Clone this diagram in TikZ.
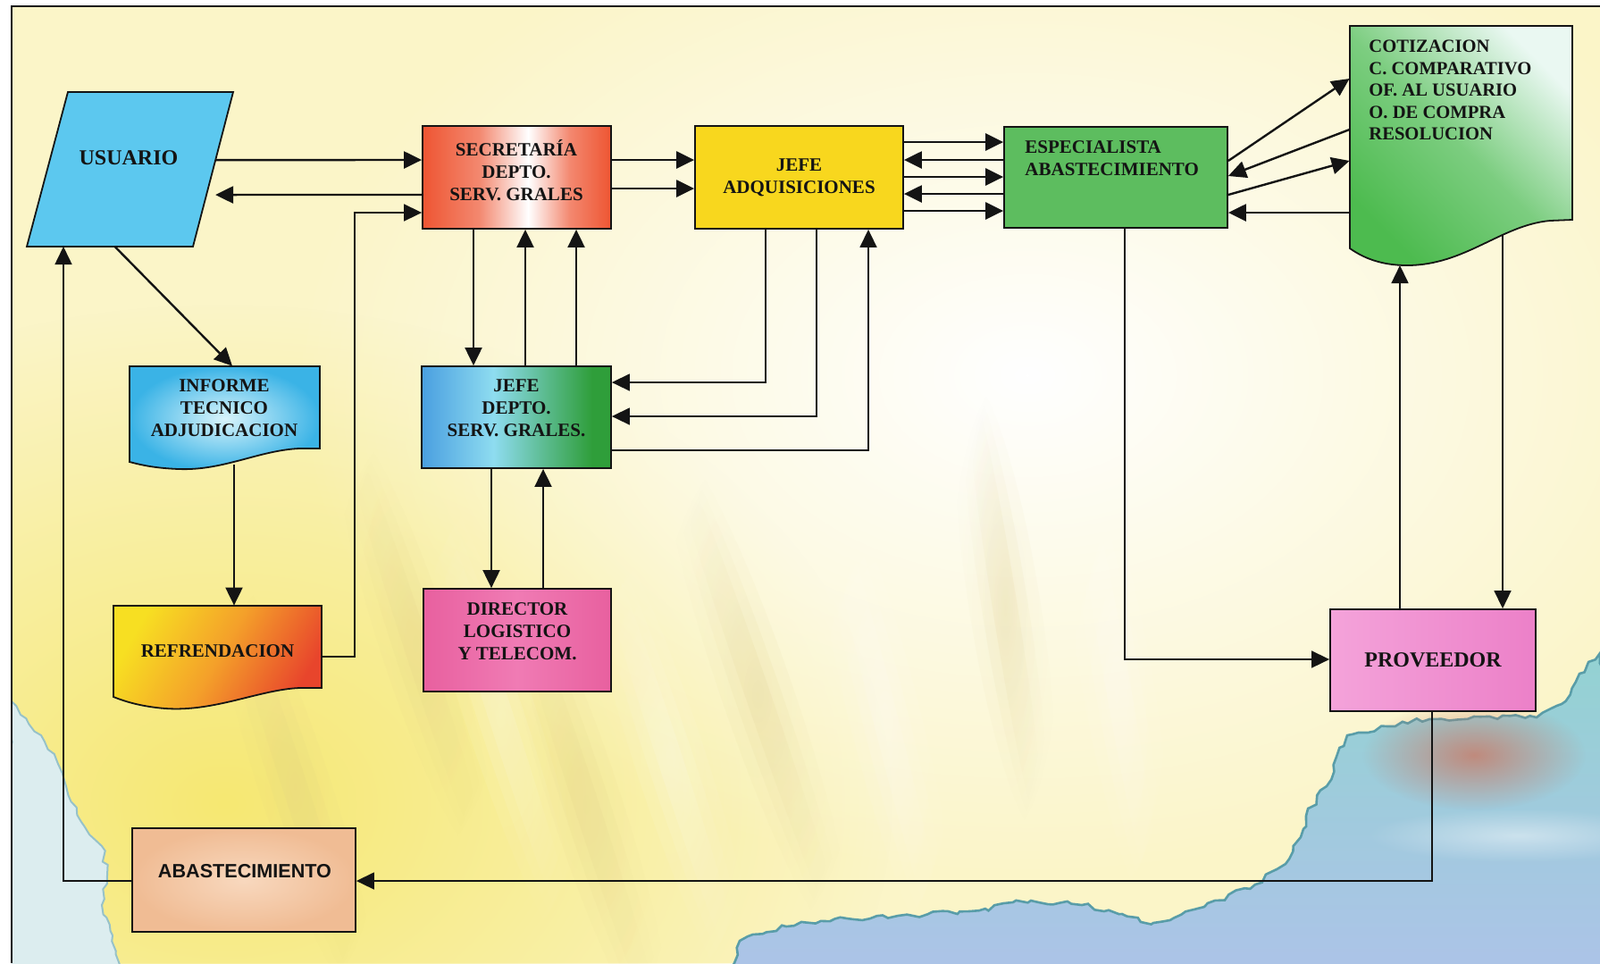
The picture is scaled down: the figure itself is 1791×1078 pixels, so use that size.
\documentclass[tikz,border=0pt]{standalone}
\usepackage{fontspec}
\setmainfont{Liberation Serif}
\newfontfamily\absfont{Liberation Sans}
\usetikzlibrary{arrows.meta,calc,fadings,decorations.pathmorphing}
\tikzfading[name=softout, inner color=transparent!0, outer color=transparent!100]
\definecolor{ink}{HTML}{141414}
\definecolor{usublue}{HTML}{5CC8EF}
\definecolor{secred}{HTML}{EE5532}
\definecolor{adqyel}{HTML}{F8D71E}
\definecolor{espgreen}{HTML}{5DBD5F}
\definecolor{jdblue}{HTML}{4A9FE0}
\definecolor{jdcyan}{HTML}{8EDCF0}
\definecolor{jdgreen}{HTML}{2F9E3A}
\definecolor{infblue}{HTML}{3AB3E6}
\definecolor{infl}{HTML}{D9F4FB}
\definecolor{refyel}{HTML}{F7DF22}
\definecolor{reforange}{HTML}{F4A02A}
\definecolor{refred}{HTML}{E8452C}
\definecolor{dirpink}{HTML}{E8609F}
\definecolor{dirpinkl}{HTML}{F07BB4}
\definecolor{provpink}{HTML}{F4A3DA}
\definecolor{provpinkd}{HTML}{EC80C8}
\definecolor{abspeach}{HTML}{F0BC94}
\definecolor{abspeachl}{HTML}{F8D8BE}
\definecolor{cotgreen}{HTML}{4DBB4F}
\definecolor{cotlight}{HTML}{EAF8F2}
\definecolor{bgcream}{HTML}{FBF5C8}
\definecolor{bgyel}{HTML}{F6E872}
\definecolor{raydark}{HTML}{DCCB84}
\definecolor{wcteal}{HTML}{93D2D2}
\definecolor{wcblue}{HTML}{AFC2EA}
\definecolor{wcedge}{HTML}{2F8592}
\definecolor{wcred}{HTML}{C97A66}
\definecolor{wcleft}{HTML}{DCEDEF}
\pgfdeclarehorizontalshading{secshade}{100bp}{color(0bp)=(secred); color(25bp)=(secred); color(40bp)=(secred!70!white); color(53bp)=(white); color(64bp)=(secred!70!white); color(75bp)=(secred); color(100bp)=(secred)}
\pgfdeclarehorizontalshading{jdshade}{100bp}{color(0bp)=(jdblue); color(25bp)=(jdblue); color(44bp)=(jdcyan); color(58bp)=(jdgreen!55!jdcyan); color(70bp)=(jdgreen); color(75bp)=(jdgreen); color(100bp)=(jdgreen)}
\tikzset{
  box/.style={draw=ink, line width=0.9pt, rectangle, inner sep=0pt},
  ghost/.style={rectangle, inner sep=0pt},
  txt/.style={font=\bfseries\fontsize{10.5}{12.5}\selectfont, text=ink, align=center, inner sep=0pt},
  bigtxt/.style={txt, font=\bfseries\fontsize{12}{14}\selectfont},
  doc/.style={draw=ink, line width=0.9pt},
  arr/.style={draw=ink, line width=1.2pt, -{Triangle[length=10pt,width=9.5pt]}},
  marr/.style={arr, line width=1pt},
  tarr/.style={arr, line width=0.8pt},
}
\begin{document}
\begin{tikzpicture}[x=0.5pt,y=-0.5pt]
\useasboundingbox (0,0) rectangle (1791,1078);
\fill[white] (0,0) rectangle (1791,1078);
% ---------- background ----------
\begin{scope}
\clip (13,7) rectangle (1791,1078);
\fill[bgcream] (0,0) rectangle (1791,1078);
\fill[bgyel, path fading=softout] (250,900) ellipse (750 and 560);
\fill[white, path fading=softout] (1150,420) ellipse (820 and 560);
% soft light streaks
\foreach \sx/\sy/\ang/\len/\col in {465/720/18/260/raydark, 656/900/18/280/raydark, 848/777/19/300/raydark, 1125/680/9/260/raydark,
    330/880/18/260/raydark, 560/800/18/300/white, 750/850/18/300/white, 990/800/14/300/white, 1250/760/10/280/white}{
  \foreach \w/\o in {40/0.10, 26/0.12, 14/0.14}{
    \fill[\col, opacity=\o, path fading=softout, rotate around={\ang:(\sx,\sy)}] (\sx,\sy) ellipse [x radius=\w, y radius=\len];
  }
}
% watercolour, bottom right
\path[decorate, decoration={random steps,segment length=4pt,amplitude=1.6pt},
      top color=wcteal, bottom color=wcblue, draw=wcedge!80, line width=1.3pt]
  (822,1078) -- (828,1053) -- (880,1037) -- (948,1028) -- (1005,1025) -- (1085,1020)
  -- (1154,1008) -- (1211,1013) -- (1256,1023) -- (1291,1033) -- (1348,1015)
  -- (1405,990) -- (1439,967) -- (1456,937) -- (1462,913) -- (1485,880)
  -- (1496,847) -- (1508,823) -- (1531,820) -- (1553,813) -- (1600,805)
  -- (1650,802) -- (1720,803) -- (1748,788) -- (1768,754) -- (1791,731)
  -- (1830,1120) -- (800,1120) -- cycle;
\fill[wcred, opacity=0.8, path fading=softout] (1650,845) ellipse (125 and 62);
\fill[white, opacity=0.45, path fading=softout] (1700,935) ellipse (170 and 30);
% watercolour, left edge
\path[decorate, decoration={random steps,segment length=4pt,amplitude=1.4pt},
      fill=wcleft, draw=wcedge!50, line width=1pt]
  (13,785) -- (23,800) -- (46,823) -- (63,850) -- (74,880) -- (91,920) -- (114,947)
  -- (120,980) -- (114,1013) -- (126,1047) -- (140,1120) -- (0,1120) -- cycle;
\end{scope}
\draw[ink, line width=1pt] (13,1078) -- (13,7) -- (1791,7);
% ---------- shapes drawn as paths ----------
\coordinate (usu-tl) at (76,103);
\coordinate (usu-tr) at (261,103);
\coordinate (usu-br) at (216,276);
\coordinate (usu-bl) at (30,276);
\path[doc, fill=usublue] (usu-tl) -- (usu-tr) -- (usu-br) -- (usu-bl) -- cycle;
\path[doc, inner color=infl, outer color=infblue]
  (145,410) -- (358,410) -- (358,502) -- (335,502) .. controls (290,504) and (250,527) .. (200,525)
  .. controls (175,524) and (160,521) .. (145,517) -- cycle;
\path[doc, top color=refyel, bottom color=refred, middle color=reforange, shading angle=60]
  (127,678) -- (360,678) -- (360,770) -- (335,770) .. controls (290,772) and (240,797) .. (185,793)
  .. controls (160,791) and (142,786) .. (127,780) -- cycle;
\path[doc, top color=cotlight, bottom color=cotgreen, middle color=cotgreen!70!cotlight, shading angle=-45]
  (1511,29) -- (1760,29) -- (1760,246) -- (1735,247) .. controls (1680,252) and (1640,297) .. (1575,297)
  .. controls (1545,297) and (1525,288) .. (1511,278) -- cycle;
% ---------- nodes ----------
\node[bigtxt] (usu) at (144,177) {USUARIO};
\node[box, minimum width=105.5pt, minimum height=57.5pt, shading=secshade] (sec) at (578.5,198.5) {};
\node[box, txt, minimum width=116.5pt, minimum height=57.5pt, fill=adqyel] (adq) at (894.5,198.5) {JEFE\\ADQUISICIONES};
\node[box, minimum width=125pt, minimum height=56.5pt, fill=espgreen] (esp) at (1249,198.5) {};
\node[box, minimum width=106pt, minimum height=57pt, shading=jdshade] (jd) at (578,467) {};
\node[box, minimum width=105pt, minimum height=57.5pt, left color=dirpink, right color=dirpink, middle color=dirpinkl] (dir) at (579,716.5) {};
\node[box, bigtxt, minimum width=115pt, minimum height=57pt, left color=provpink, right color=provpinkd] (prov) at (1604,739) {PROVEEDOR};
\node[box, minimum width=125pt, minimum height=58pt, inner color=abspeachl, outer color=abspeach] (abs) at (273,985) {};
\node[ghost, minimum width=106.5pt, minimum height=55pt] (inf) at (251.5,465) {};
\node[ghost, txt, minimum width=116.5pt, minimum height=51pt] (ref) at (243.5,729) {REFRENDACION};
\node[ghost, minimum width=124.5pt, minimum height=124.5pt] (cot) at (1635.5,153.5) {};
\coordinate (cotdip) at (1567,297);
\coordinate (cotdrop) at (1682,262);
% ---------- texts ----------
\node[txt] (sec-t) at (578,191) {SECRETARÍA\\DEPTO.\\SERV. GRALES};
\node[txt, align=left, anchor=west] (esp-t) at (1147,177) {ESPECIALISTA\\ABASTECIMIENTO};
\node[txt, align=left, anchor=west, font=\bfseries\fontsize{10.3}{12.3}\selectfont] (cot-t) at (1532,101)
  {COTIZACION\\C. COMPARATIVO\\OF. AL USUARIO\\O. DE COMPRA\\RESOLUCION};
\node[txt] (inf-t) at (251,457) {INFORME\\TECNICO\\ADJUDICACION};
\node[txt] (jd-t) at (578,457) {JEFE\\DEPTO.\\SERV. GRALES.};
\node[txt] (dir-t) at (579,707) {DIRECTOR\\LOGISTICO\\Y TELECOM.};
\node[txt, font=\absfont\bfseries\fontsize{10.8}{13}\selectfont] (abs-t) at (274,975) {ABASTECIMIENTO};
% ---------- connectors ----------
\draw[arr] ($(usu-tr)!0.44!(usu-br)$) -- (sec.west |- 0,179);
\draw[arr, shorten >=5pt] (sec.west |- 0,218) -- ($(usu-tr)!0.665!(usu-br)$);
\draw[arr] (sec.east |- 0,179) -- (adq.west |- 0,179);
\draw[arr] (sec.east |- 0,211) -- (adq.west |- 0,211);
\draw[arr] (adq.east |- 0,159) -- (esp.west |- 0,159);
\draw[arr] (esp.west |- 0,179) -- (adq.east |- 0,179);
\draw[arr] (adq.east |- 0,198) -- (esp.west |- 0,198);
\draw[arr] (esp.west |- 0,217) -- (adq.east |- 0,217);
\draw[arr] (adq.east |- 0,236) -- (esp.west |- 0,236);
\draw[arr] (esp.east |- 0,180) -- (cot.west |- 0,88);
\draw[arr] (cot.west |- 0,145) -- (esp.east |- 0,197);
\draw[arr] (esp.east |- 0,218) -- (cot.west |- 0,180);
\draw[arr] (cot.west |- 0,238) -- (esp.east |- 0,238);
\draw[marr] (sec.south -| 530,0) -- (jd.north -| 530,0);
\draw[marr] (jd.north -| 588,0) -- (sec.south -| 588,0);
\draw[marr] (jd.north -| 645,0) -- (sec.south -| 645,0);
\draw[tarr] (adq.south -| 857,0) |- (jd.east |- 0,428);
\draw[tarr] (adq.south -| 914,0) |- (jd.east |- 0,466);
\draw[tarr] (jd.east |- 0,504) -| (adq.south -| 972,0);
\draw[marr] (jd.south -| 550,0) -- (dir.north -| 550,0);
\draw[marr] (dir.north -| 608,0) -- (jd.south -| 608,0);
\draw[arr] ($(usu-bl)!0.53!(usu-br)$) -- (inf.north -| 260,0);
\draw[marr] (inf.south -| 262,0) -- (ref.north -| 262,0);
\draw[tarr] (ref.east |- 0,735) -- (397,735) |- (sec.west |- 0,238);
\draw[tarr] (esp.south -| 1259,0) |- (prov.west |- 0,738);
\draw[tarr] (prov.north -| 1567,0) -- (cotdip);
\draw[tarr] (cotdrop) -- (prov.north -| 1682,0);
\draw[tarr] (prov.south -| 1603,0) |- (abs.east |- 0,986);
\draw[tarr] (abs.west |- 0,986) -| (71,0 |- usu-bl);
\end{tikzpicture}
\end{document}
